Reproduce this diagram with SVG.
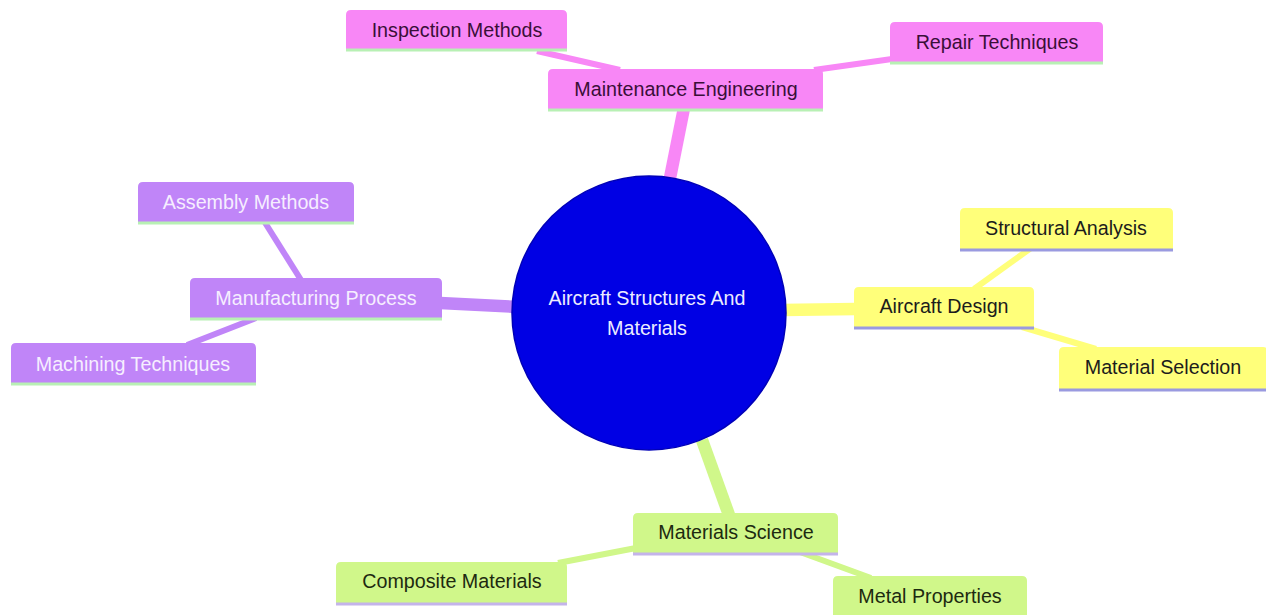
<svg xmlns="http://www.w3.org/2000/svg" width="1266" height="615" viewBox="0 0 1266 615">
<style>
text{font-family:"Liberation Sans",Arial,sans-serif;font-size:19.7px;text-anchor:middle;dominant-baseline:central}
.e{fill:none;stroke-linecap:butt}
.d1{stroke-width:12.5}
.d2{stroke-width:6}
.pk{fill:#f887f6}.pkE{stroke:#f887f6}
.pu{fill:#c085f8}.puE{stroke:#c085f8}
.ye{fill:#ffff7a}.yeE{stroke:#ffff7a}
.gr{fill:#d0f78a}.grE{stroke:#d0f78a}
.tpk{fill:#3a0f38}.tpu{fill:#f6eeff}.tye{fill:#1c1c1c}.tgr{fill:#1d2a10}
.ul{stroke-width:3}
.ulG{stroke:#b8f0b4}.ulL{stroke:#9a9ae0}.ulV{stroke:#c4b4ea}
</style>
<rect width="1266" height="615" fill="#ffffff"/>
<g id="connectors">
<line class="e d1 pkE" x1="668" y1="188" x2="684" y2="108"/>
<line class="e d1 puE" x1="518" y1="307" x2="440" y2="303"/>
<line class="e d1 yeE" x1="782" y1="310" x2="856" y2="309"/>
<line class="e d1 grE" x1="702" y1="440" x2="729" y2="515"/>
<line class="e d2 pkE" x1="537" y1="51" x2="620" y2="70"/>
<line class="e d2 pkE" x1="892" y1="59" x2="814" y2="70"/>
<line class="e d2 puE" x1="264" y1="221" x2="301" y2="280"/>
<line class="e d2 puE" x1="256" y1="318" x2="187" y2="345"/>
<line class="e d2 yeE" x1="1031" y1="248" x2="974" y2="289"/>
<line class="e d2 yeE" x1="1022" y1="327" x2="1096" y2="349"/>
<line class="e d2 grE" x1="558" y1="563" x2="636" y2="548"/>
<line class="e d2 grE" x1="800" y1="552" x2="871" y2="578"/>
</g>
<g id="root">
<circle cx="649" cy="313" r="137" fill="#0000e4" stroke="#0000b8" stroke-width="1.5"/>
<text x="647" y="298" fill="#ececff">Aircraft Structures And</text>
<text x="647" y="328" fill="#ececff">Materials</text>
</g>
<g id="maintenance-engineering">
<path class="pk" d="M548,109 V74 q0,-5 5,-5 H818 q5,0 5,5 V109 Z"/>
<line class="ul ulG" x1="548" y1="110" x2="823" y2="110"/>
<text class="tpk" x="686" y="89">Maintenance Engineering</text>
</g>
<g id="inspection-methods">
<path class="pk" d="M346,49 V15 q0,-5 5,-5 H562 q5,0 5,5 V49 Z"/>
<line class="ul ulG" x1="346" y1="50" x2="567" y2="50"/>
<text class="tpk" x="457" y="30">Inspection Methods</text>
</g>
<g id="repair-techniques">
<path class="pk" d="M890,62 V27 q0,-5 5,-5 H1098 q5,0 5,5 V62 Z"/>
<line class="ul ulG" x1="890" y1="63" x2="1103" y2="63"/>
<text class="tpk" x="997" y="42">Repair Techniques</text>
</g>
<g id="manufacturing-process">
<path class="pu" d="M190,318 V283 q0,-5 5,-5 H437 q5,0 5,5 V318 Z"/>
<line class="ul ulG" x1="190" y1="319" x2="442" y2="319"/>
<text class="tpu" x="316" y="298">Manufacturing Process</text>
</g>
<g id="assembly-methods">
<path class="pu" d="M138,222 V187 q0,-5 5,-5 H349 q5,0 5,5 V222 Z"/>
<line class="ul ulG" x1="138" y1="223" x2="354" y2="223"/>
<text class="tpu" x="246" y="202">Assembly Methods</text>
</g>
<g id="machining-techniques">
<path class="pu" d="M11,383 V348 q0,-5 5,-5 H251 q5,0 5,5 V383 Z"/>
<line class="ul ulG" x1="11" y1="384" x2="256" y2="384"/>
<text class="tpu" x="133" y="364">Machining Techniques</text>
</g>
<g id="aircraft-design">
<path class="ye" d="M854,327 V292 q0,-5 5,-5 H1029 q5,0 5,5 V327 Z"/>
<line class="ul ulL" x1="854" y1="328" x2="1034" y2="328"/>
<text class="tye" x="944" y="306">Aircraft Design</text>
</g>
<g id="structural-analysis">
<path class="ye" d="M960,249 V213 q0,-5 5,-5 H1168 q5,0 5,5 V249 Z"/>
<line class="ul ulL" x1="960" y1="250" x2="1173" y2="250"/>
<text class="tye" x="1066" y="228">Structural Analysis</text>
</g>
<g id="material-selection">
<path class="ye" d="M1059,389 V352 q0,-5 5,-5 H1263 q5,0 5,5 V389 Z"/>
<line class="ul ulL" x1="1059" y1="390" x2="1268" y2="390"/>
<text class="tye" x="1163" y="367">Material Selection</text>
</g>
<g id="materials-science">
<path class="gr" d="M633,553 V518 q0,-5 5,-5 H833 q5,0 5,5 V553 Z"/>
<line class="ul ulV" x1="633" y1="554" x2="838" y2="554"/>
<text class="tgr" x="736" y="532">Materials Science</text>
</g>
<g id="composite-materials">
<path class="gr" d="M336,603 V567 q0,-5 5,-5 H562 q5,0 5,5 V603 Z"/>
<line class="ul ulV" x1="336" y1="604" x2="567" y2="604"/>
<text class="tgr" x="452" y="581">Composite Materials</text>
</g>
<g id="metal-properties">
<path class="gr" d="M833,618 V581 q0,-5 5,-5 H1022 q5,0 5,5 V618 Z"/>
<text class="tgr" x="930" y="596">Metal Properties</text>
</g>
</svg>
